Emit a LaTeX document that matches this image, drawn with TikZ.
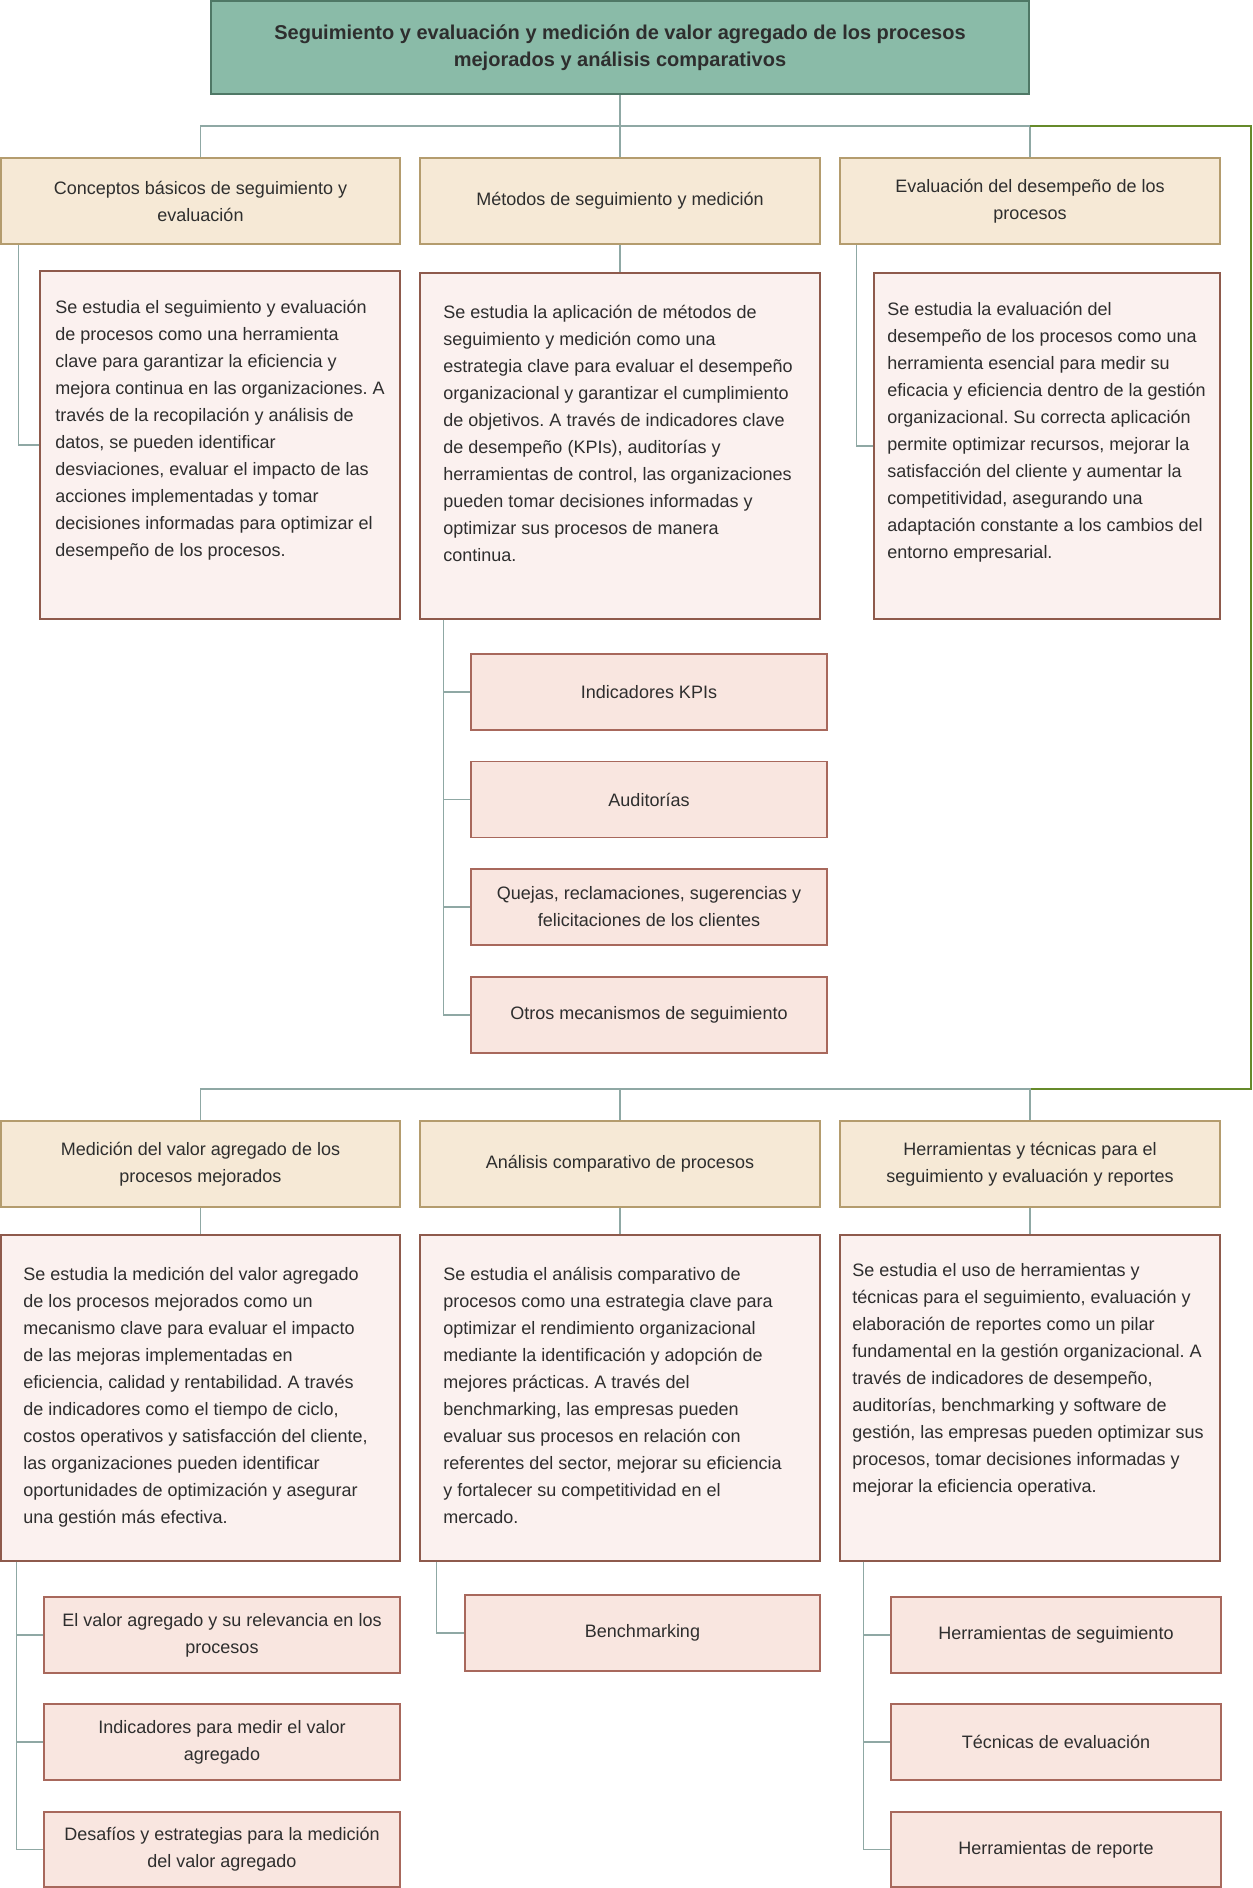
\documentclass[tikz,border=0pt]{standalone}
\usepackage{fontspec}
\setmainfont{Liberation Sans}
\usetikzlibrary{calc}
\frenchspacing
\definecolor{rootfill}{HTML}{8ABBA8}
\definecolor{rootdraw}{HTML}{4F7866}
\definecolor{headfill}{HTML}{F6E9D6}
\definecolor{headdraw}{HTML}{B49C6E}
\definecolor{descfill}{HTML}{FBF1EF}
\definecolor{descdraw}{HTML}{8E5A4C}
\definecolor{kidfill}{HTML}{F9E6E0}
\definecolor{kiddraw}{HTML}{A8685C}
\definecolor{connc}{HTML}{8FA8A4}
\definecolor{greenc}{HTML}{668A2A}
\definecolor{txt}{HTML}{2E2E2E}
\newcommand\dfont{\fontsize{18}{27}\selectfont\frenchspacing}
\newcommand\tfont{\fontsize{20}{27}\selectfont\bfseries}
\tikzset{
  boxbase/.style={draw, line width=1.5pt, inner sep=0pt, align=center, font=\dfont, text=txt},
  rootbox/.style={boxbase, fill=rootfill, draw=rootdraw, font=\tfont},
  headbox/.style={boxbase, fill=headfill, draw=headdraw},
  descbox/.style={boxbase, fill=descfill, draw=descdraw},
  kidbox/.style={boxbase, fill=kidfill, draw=kiddraw},
  desctext/.style={anchor=north west, inner sep=0pt, align=left, font=\dfont, text=txt},
  conn/.style={draw=connc, line width=1.5pt},
  greenconn/.style={draw=greenc, line width=1.5pt}
}
\begin{document}
\begin{tikzpicture}[x=1pt,y=-1pt]
\useasboundingbox (0,0) rectangle (1253,1888);
% root
\node[rootbox, minimum width=818pt, minimum height=93pt] (root) at (620,47.5)
  {Seguimiento y evaluación y medición de valor agregado de los procesos\\mejorados y análisis comparativos};
% row 1 headers
\node[headbox, minimum width=399pt, minimum height=86pt] (h1) at (200.5,201) {Conceptos básicos de seguimiento y\\evaluación};
\node[headbox, minimum width=400pt, minimum height=86pt] (h2) at (620,201) {Métodos de seguimiento y medición};
\node[headbox, minimum width=380pt, minimum height=86pt] (h3) at (1030,201) {Evaluación del desempeño de los\\procesos};
% row 1 descriptions
\node[descbox, minimum width=360pt, minimum height=348pt] (d1) at (220,445) {};
\node[descbox, minimum width=400pt, minimum height=346pt] (d2) at (620,446) {};
\node[descbox, minimum width=346pt, minimum height=346pt] (d3) at (1047,446) {};
\node[desctext] (d1t) at ([shift={(16pt,-29.5pt)}]d1.north west)
{Se estudia el seguimiento y evaluación\\
de procesos como una herramienta\\
clave para garantizar la eficiencia y\\
mejora continua en las organizaciones. A\\
través de la recopilación y análisis de\\
datos, se pueden identificar\\
desviaciones, evaluar el impacto de las\\
acciones implementadas y tomar\\
decisiones informadas para optimizar el\\
desempeño de los procesos.};
\node[desctext] (d2t) at ([shift={(24pt,-32.5pt)}]d2.north west)
{Se estudia la aplicación de métodos de\\
seguimiento y medición como una\\
estrategia clave para evaluar el desempeño\\
organizacional y garantizar el cumplimiento\\
de objetivos. A través de indicadores clave\\
de desempeño (KPIs), auditorías y\\
herramientas de control, las organizaciones\\
pueden tomar decisiones informadas y\\
optimizar sus procesos de manera\\
continua.};
\node[desctext] (d3t) at ([shift={(14pt,-29.5pt)}]d3.north west)
{Se estudia la evaluación del\\
desempeño de los procesos como una\\
herramienta esencial para medir su\\
eficacia y eficiencia dentro de la gestión\\
organizacional. Su correcta aplicación\\
permite optimizar recursos, mejorar la\\
satisfacción del cliente y aumentar la\\
competitividad, asegurando una\\
adaptación constante a los cambios del\\
entorno empresarial.};
% column 2 children
\node[kidbox, minimum width=356pt, minimum height=76pt] (k1) at (649,692) {Indicadores KPIs};
\node[kidbox, minimum width=356pt, minimum height=76pt] (k2) at (649,799.5) {Auditorías};
\node[kidbox, minimum width=356pt, minimum height=76pt] (k3) at (649,907) {Quejas, reclamaciones, sugerencias y\\felicitaciones de los clientes};
\node[kidbox, minimum width=356pt, minimum height=76pt] (k4) at (649,1015) {Otros mecanismos de seguimiento};
% row 2 headers
\node[headbox, minimum width=399pt, minimum height=86pt] (H1) at (200.5,1164) {Medición del valor agregado de los\\procesos mejorados};
\node[headbox, minimum width=400pt, minimum height=86pt] (H2) at (620,1164) {Análisis comparativo de procesos};
\node[headbox, minimum width=380pt, minimum height=86pt] (H3) at (1030,1164) {Herramientas y técnicas para el\\seguimiento y evaluación y reportes};
% row 2 descriptions
\node[descbox, minimum width=399pt, minimum height=326pt] (D1) at (200.5,1398) {};
\node[descbox, minimum width=400pt, minimum height=326pt] (D2) at (620,1398) {};
\node[descbox, minimum width=380pt, minimum height=326pt] (D3) at (1030,1398) {};
\node[desctext] (D1t) at ([shift={(23pt,-32.5pt)}]D1.north west)
{Se estudia la medición del valor agregado\\
de los procesos mejorados como un\\
mecanismo clave para evaluar el impacto\\
de las mejoras implementadas en\\
eficiencia, calidad y rentabilidad. A través\\
de indicadores como el tiempo de ciclo,\\
costos operativos y satisfacción del cliente,\\
las organizaciones pueden identificar\\
oportunidades de optimización y asegurar\\
una gestión más efectiva.};
\node[desctext] (D2t) at ([shift={(24pt,-32.5pt)}]D2.north west)
{Se estudia el análisis comparativo de\\
procesos como una estrategia clave para\\
optimizar el rendimiento organizacional\\
mediante la identificación y adopción de\\
mejores prácticas. A través del\\
benchmarking, las empresas pueden\\
evaluar sus procesos en relación con\\
referentes del sector, mejorar su eficiencia\\
y fortalecer su competitividad en el\\
mercado.};
\node[desctext] (D3t) at ([shift={(13pt,-28.5pt)}]D3.north west)
{Se estudia el uso de herramientas y\\
técnicas para el seguimiento, evaluación y\\
elaboración de reportes como un pilar\\
fundamental en la gestión organizacional. A\\
través de indicadores de desempeño,\\
auditorías, benchmarking y software de\\
gestión, las empresas pueden optimizar sus\\
procesos, tomar decisiones informadas y\\
mejorar la eficiencia operativa.};
% row 2 children
\node[kidbox, minimum width=356pt, minimum height=76pt] (m1) at (222,1635) {El valor agregado y su relevancia en los\\procesos};
\node[kidbox, minimum width=356pt, minimum height=76pt] (m2) at (222,1742) {Indicadores para medir el valor\\agregado};
\node[kidbox, minimum width=356pt, minimum height=75pt] (m3) at (222,1849.5) {Desafíos y estrategias para la medición\\del valor agregado};
\node[kidbox, minimum width=355pt, minimum height=76pt] (b1) at (642.5,1633) {Benchmarking};
\node[kidbox, minimum width=330pt, minimum height=76pt] (t1) at (1056,1635) {Herramientas de seguimiento};
\node[kidbox, minimum width=330pt, minimum height=76pt] (t2) at (1056,1742) {Técnicas de evaluación};
\node[kidbox, minimum width=330pt, minimum height=75pt] (t3) at (1056,1849.5) {Herramientas de reporte};
% junction coordinates
\coordinate (jr) at (620,126);
\coordinate (gA) at (1251,126);
\coordinate (gB) at (1251,1089);
\coordinate (jb) at (620,1089);
% connectors row 1
\draw[conn] (root.south) -- (h2.north);
\draw[conn] (h1.north) -- (h1.north |- jr) -- (h3.north |- jr) -- (h3.north);
\draw[conn] ([xshift=18pt]h1.south west) |- (d1.west);
\draw[conn] (h2.south) -- (d2.north);
\draw[conn] ([xshift=17pt]h3.south west) |- (d3.west);
\draw[conn] ([xshift=24pt]d2.south west) |- (k1.west);
\draw[conn] ([xshift=24pt]d2.south west) |- (k2.west);
\draw[conn] ([xshift=24pt]d2.south west) |- (k3.west);
\draw[conn] ([xshift=24pt]d2.south west) |- (k4.west);
% green link to row 2
\draw[greenconn] (h3.north |- jr) -- (gA) -- (gB) -- (H3.north |- gB);
% connectors row 2
\draw[conn] (H1.north) -- (H1.north |- jb) -- (H3.north |- jb) -- (H3.north);
\draw[conn] (jb) -- (H2.north);
\draw[conn] (H1.south) -- (D1.north);
\draw[conn] (H2.south) -- (D2.north);
\draw[conn] (H3.south) -- (D3.north);
\draw[conn] ([xshift=16pt]D1.south west) |- (m1.west);
\draw[conn] ([xshift=16pt]D1.south west) |- (m2.west);
\draw[conn] ([xshift=16pt]D1.south west) |- (m3.west);
\draw[conn] ([xshift=17pt]D2.south west) |- (b1.west);
\draw[conn] ([xshift=24pt]D3.south west) |- (t1.west);
\draw[conn] ([xshift=24pt]D3.south west) |- (t2.west);
\draw[conn] ([xshift=24pt]D3.south west) |- (t3.west);
\end{tikzpicture}
\end{document}
